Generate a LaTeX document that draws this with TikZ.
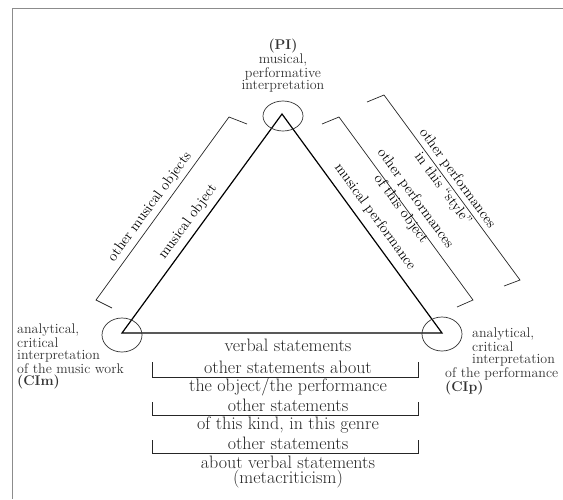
\documentclass[tikz,border=0pt]{standalone}
\usepackage{fontspec}

\begin{document}
\begin{tikzpicture}[x=1pt,y=-1pt,
  vertextext/.style={font=\fontsize{14}{12}\selectfont, text=black!80, inner sep=0pt},
  edgelab/.style={font=\fontsize{14.5}{18}\selectfont, inner sep=0pt, align=center},
  stmt/.style={font=\fontsize{18}{16}\selectfont, text=black!85, inner sep=0pt, anchor=base},
  brak/.style={draw=black!85, line width=0.7pt},
  ring/.style={draw=black!80, line width=0.7pt}]
  \useasboundingbox (0,0) rectangle (563,499);

  % frame (top and left only)
  \draw[black!45, line width=1pt] (12,499) -- (12,8) -- (563,8);

  % the triangle
  \coordinate (PI) at (282,114);
  \coordinate (CIm) at (122,333);
  \coordinate (CIp) at (442,333);
  \draw[line width=1.2pt] (PI) -- (CIm) -- (CIp) -- cycle;
  \draw[ring] (283,116) ellipse [x radius=20pt, y radius=15pt];
  \draw[ring] (122,335) ellipse [x radius=20pt, y radius=17pt];
  \draw[ring] (442,334) ellipse [x radius=20pt, y radius=17pt];

  % vertex texts
  \node[vertextext, align=center, anchor=south] (pitext) at (283,92)
       {\textbf{(PI)}\\musical,\\performative\\interpretation};
  \node[vertextext, align=left, anchor=north west] (cimtext) at (17,324)
       {analytical,\\critical\\interpretation\\of the music work\\\textbf{(CIm)}};
  \node[vertextext, align=left, anchor=north west] (ciptext) at (445,328)
       {\hspace*{27pt}analytical,\\\hspace*{27pt}critical\\\hspace*{27pt}interpretation\\of the performance\\\textbf{(CIp)}};

  % brackets along the sides
  \draw[brak] (247,124) -- (229,117) -- (96,300) -- (112,308);
  \draw[brak] (322,124) -- (339,117) -- (473,300) -- (457,307);
  \draw[brak] (367,102) -- (384,95) -- (520,280) -- (504,286);

  % labels along the sides
  \node[edgelab, rotate=53.85] (mobj) at (188,222) {musical object};
  \node[edgelab, rotate=53.85] (omobj) at (150,207) {other musical objects};
  \node[edgelab, rotate=-53.85] (mperf) at (375,217) {musical performance};
  \node[edgelab, rotate=-53.85] (operf) at (408,204) {other performances\\of this object};
  \node[edgelab, rotate=-53.85] (ostyle) at (450,184) {other performances\\in this ``style''};

  % statements under the base
  \node[stmt] (verbal) at (288,351) {verbal statements};
  \draw[brak] (152,362) -- (152,377) -- (418,377) -- (418,362);
  \node[stmt] (osa) at (288,373) {other statements about};
  \node[stmt] (osb) at (288,391) {the object/the performance};
  \draw[brak] (152,402) -- (152,415) -- (418,415) -- (418,402);
  \node[stmt] (oka) at (288,411) {other statements};
  \node[stmt] (okb) at (288,429) {of this kind, in this genre};
  \draw[brak] (152,440) -- (152,453) -- (418,453) -- (418,440);
  \node[stmt] (ova) at (288,449) {other statements};
  \node[stmt] (ovb) at (288,468) {about verbal statements};
  \node[stmt] (ovc) at (288,483) {(metacriticism)};
\end{tikzpicture}
\end{document}
